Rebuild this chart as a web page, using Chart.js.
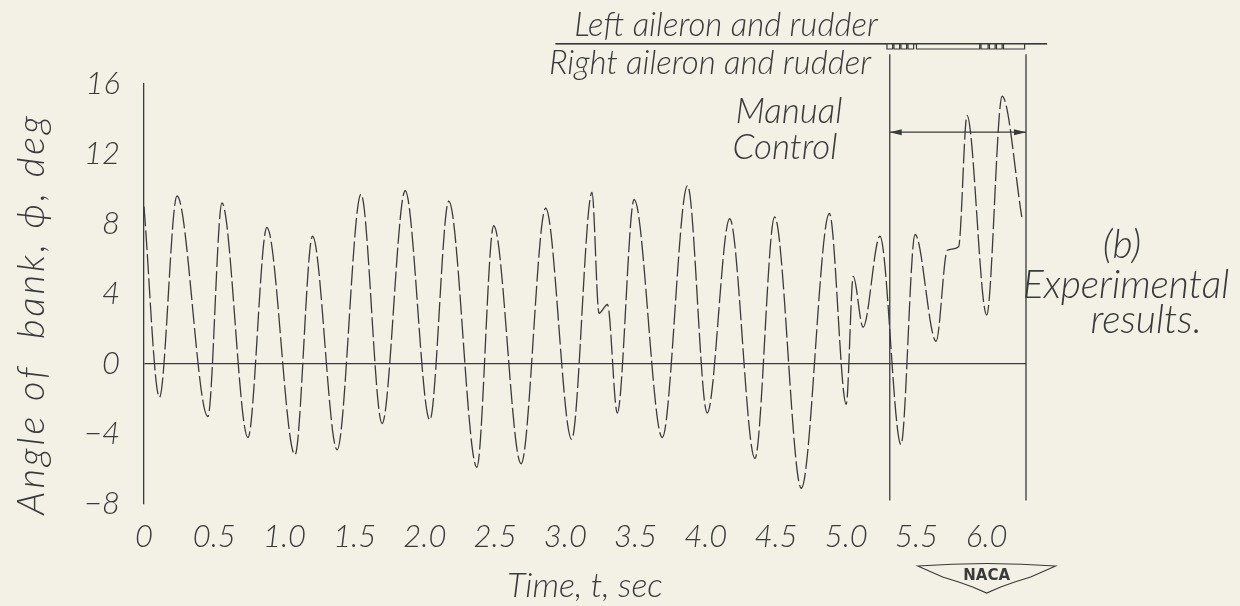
<!DOCTYPE html>
<html>
<head>
<meta charset="utf-8">
<title>Angle of bank - experimental results</title>
<script src="https://cdn.jsdelivr.net/npm/chart.js@4.4.1/dist/chart.umd.min.js"></script>
<style>
  html, body { margin: 0; padding: 0; background: #f3f0e6; }
  #wrap { width: 1240px; height: 606px; }
</style>
</head>
<body>
<div id="wrap"><canvas id="bank-chart"></canvas></div>
<script>
var timeSec = [0, 0.11, 0.235, 0.455, 0.555, 0.74, 0.875, 1.075, 1.2, 1.375,
    1.545, 1.695, 1.86, 2.035, 2.17, 2.37, 2.49, 2.685, 2.86, 3.045,
    3.19, 3.24, 3.30, 3.37, 3.49, 3.69, 3.87, 4.01, 4.17, 4.35,
    4.49, 4.68, 4.88, 5.0, 5.05, 5.12, 5.24, 5.39, 5.49, 5.64,
    5.72, 5.80, 5.86, 6.0, 6.11, 6.25];
var bankDeg = [9.0, -1.9, 9.6, -3.0, 9.2, -4.2, 7.8, -5.2, 7.3, -4.9,
    9.7, -3.4, 9.9, -3.2, 9.3, -5.9, 7.9, -5.7, 8.9, -4.3,
    9.8, 2.9, 3.4, -2.8, 9.4, -4.2, 10.2, -2.8, 8.3, -5.4,
    8.4, -7.1, 8.6, -2.3, 5.0, 2.1, 7.3, -4.6, 7.4, 1.3,
    6.5, 6.7, 14.2, 2.8, 15.3, 8.4];

// aileron and rudder record at the top: 0 = left, 1 = right
var controlTime = [2.93, 5.29, 5.33, 5.34, 5.38, 5.39, 5.43, 5.44, 5.48, 5.50,
    5.95, 5.96, 6.01, 6.02, 6.06, 6.07, 6.11, 6.12, 6.27, 6.43];
var controlSide = [0, 1, 0, 1, 0, 1, 0, 1, 0, 1,
    0, 1, 0, 1, 0, 1, 0, 1, 0, 0];

var xTickLabels = [0, 0.5, 1.0, 1.5, 2.0, 2.5, 3.0, 3.5, 4.0, 4.5, 5.0, 5.5, 6.0];
var yTickLabels = [-8, -4, 0, 4, 8, 12, 16];

// manual control period
var manualStart = 5.31;
var manualEnd = 6.28;

var ink = "#3a3a3a";
var hand = "'Lato', 'Open Sans', 'DejaVu Sans', sans-serif";

var bankPoints = timeSec.map(function (t, i) { return { x: t, y: bankDeg[i] }; });
var controlPoints = controlTime.map(function (t, i) {
    return { x: t, y: controlSide[i] ? 18.0 : 18.3 };
});

function line(c, x1, y1, x2, y2) {
    c.beginPath();
    c.moveTo(x1, y1);
    c.lineTo(x2, y2);
    c.stroke();
}

function arrowHead(c, x, y, dir) {
    c.beginPath();
    c.moveTo(x, y);
    c.lineTo(x - dir * 12, y - 3);
    c.lineTo(x - dir * 12, y + 3);
    c.closePath();
    c.fill();
}

// extra lines and lettering that sit round the plot
var notes = {
    id: "notes",
    afterDraw: function (chart) {
        var c = chart.ctx, xs = chart.scales.x, ys = chart.scales.y;
        c.save();
        c.strokeStyle = ink;
        c.fillStyle = ink;
        c.lineWidth = 1.3;

        // baseline of the control record
        var yc = ys.getPixelForValue(18.3);
        line(c, xs.getPixelForValue(controlTime[0]), yc,
            xs.getPixelForValue(controlTime[controlTime.length - 1]), yc);

        var xa = xs.getPixelForValue(manualStart);
        var xb = xs.getPixelForValue(manualEnd);
        var yTop = ys.getPixelForValue(17.7);
        var yBot = ys.getPixelForValue(-7.8);
        line(c, xa, yTop, xa, yBot);
        line(c, xb, yTop, xb, yBot);

        var ya = ys.getPixelForValue(13.25);
        line(c, xa, ya, xb, ya);
        arrowHead(c, xa, ya, -1);
        arrowHead(c, xb, ya, 1);

        c.textAlign = "center";
        c.textBaseline = "middle";
        c.font = "italic 300 33px " + hand;
        c.fillText("Left aileron and rudder", 726, 25);
        c.fillText("Right aileron and rudder", 710, 63);
        c.font = "italic 300 35px " + hand;
        c.fillText("Manual", 789, 112);
        c.fillText("Control", 785, 148);

        c.font = "italic 300 39px " + hand;
        c.fillText("(b)", 1122, 245);
        c.fillText("Experimental", 1126, 285);
        c.fillText("results.", 1146, 320);

        // y axis title, lettered up the left side
        c.save();
        c.translate(32, 314);
        c.rotate(-Math.PI / 2);
        c.font = "italic 300 38px " + hand;
        c.letterSpacing = "3px";
        c.fillText("Angle of  bank, \u03d5, deg", 0, 0);
        c.restore();

        // NACA wings under the 6.0 tick
        var cx = xs.getPixelForValue(6.0), cy = 576;
        c.lineWidth = 1.2;
        c.beginPath();
        c.moveTo(cx - 69, cy - 10);
        c.quadraticCurveTo(cx, cy - 15, cx + 69, cy - 10);
        c.lineTo(cx + 44, cy + 1);
        c.lineTo(cx + 28, cy + 6);
        c.lineTo(cx + 14, cy + 11);
        c.lineTo(cx, cy + 17);
        c.lineTo(cx - 14, cy + 11);
        c.lineTo(cx - 28, cy + 6);
        c.lineTo(cx - 44, cy + 1);
        c.closePath();
        c.stroke();
        c.font = "bold 15px 'DejaVu Sans', sans-serif";
        c.fillText("NACA", cx, cy);
        c.restore();
    }
};

var ctx = document.getElementById("bank-chart");

var chart = new Chart(ctx, {
    type: "line",
    data: {
        datasets: [
            {
                label: "Angle of bank",
                data: bankPoints,
                borderColor: ink,
                borderWidth: 1.3,
                borderDash: [20, 4],
                cubicInterpolationMode: "monotone",
                pointRadius: 0,
                fill: false
            },
            {
                label: "Aileron and rudder",
                data: controlPoints,
                borderColor: ink,
                borderWidth: 1.2,
                stepped: "before",
                pointRadius: 0,
                fill: false,
                clip: false
            }
        ]
    },
    options: {
        responsive: true,
        maintainAspectRatio: false,
        animation: false,
        layout: { padding: { left: 0, right: 214, top: 84, bottom: 0 } },
        plugins: {
            legend: { display: false },
            tooltip: { enabled: false }
        },
        scales: {
            x: {
                type: "linear",
                min: 0,
                max: manualEnd,
                afterBuildTicks: function (s) {
                    s.ticks = xTickLabels.map(function (v) { return { value: v }; });
                },
                afterFit: function (s) { s.height = 102; },
                grid: { display: false, drawTicks: false },
                border: { display: false },
                ticks: {
                    padding: 14,
                    color: ink,
                    font: { family: hand, size: 31, style: "italic", weight: 300 },
                    callback: function (v) { return v === 0 ? "0" : v.toFixed(1); }
                },
                title: {
                    display: true,
                    text: "Time, t, sec",
                    color: ink,
                    padding: { top: 6, bottom: 0 },
                    font: { family: hand, size: 34, style: "italic", weight: 300 }
                }
            },
            y: {
                type: "linear",
                min: -8,
                max: 16,
                afterBuildTicks: function (s) {
                    s.ticks = yTickLabels.map(function (v) { return { value: v }; });
                },
                afterFit: function (s) { s.width = 144; },
                grid: {
                    drawTicks: false,
                    lineWidth: 1.3,
                    color: function (c) { return c.tick && c.tick.value === 0 ? ink : "rgba(0,0,0,0)"; }
                },
                border: { display: true, color: ink, width: 1.3 },
                ticks: {
                    padding: 24,
                    color: ink,
                    font: { family: hand, size: 31, style: "italic", weight: 300 },
                    callback: function (v) { return String(v).replace("-", "\u2212"); }
                }
            }
        }
    },
    plugins: [notes]
});
</script>
</body>
</html>
